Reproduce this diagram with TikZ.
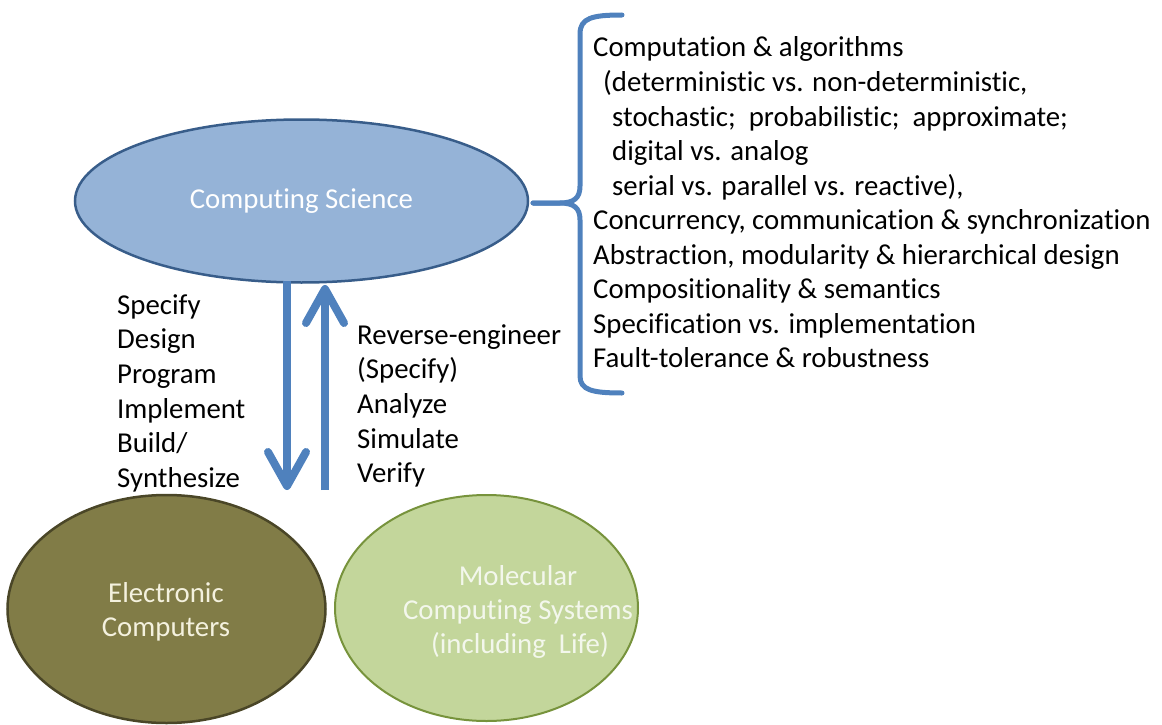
\documentclass[tikz,border=0pt]{standalone}
\usepackage{fontspec}
\setmainfont{Carlito}[Ligatures=NoCommon]
\usetikzlibrary{arrows.meta,shapes.geometric}
\definecolor{arrowblue}{HTML}{4F81BD}
\definecolor{csfill}{HTML}{95B3D7}
\definecolor{csdraw}{HTML}{385D8A}
\definecolor{olfill}{HTML}{817C47}
\definecolor{oldraw}{HTML}{4A4627}
\definecolor{oltext}{HTML}{F4F1DE}
\definecolor{grfill}{HTML}{C3D69B}
\definecolor{grdraw}{HTML}{77933C}
\definecolor{grtext}{HTML}{F3F7EC}
\begin{document}
\begin{tikzpicture}[x=1pt,y=-1pt,
  big/.style={font=\fontsize{28.8}{34.6}\selectfont},
  lst/.style={big, inner sep=0pt, anchor=base west, text=black},
  ctr/.style={big, inner sep=0pt, anchor=base},
  oval/.style={ellipse, inner sep=0pt, line width=2.5pt},
  flow/.style={draw=arrowblue, line width=8pt,
    -{Straight Barb[length=34pt, width=38pt, round]}},
  bracepath/.style={draw=arrowblue, line width=5pt, line cap=round}]
\useasboundingbox (0,0) rectangle (1162,725);

% ellipses
\node[oval, draw=csdraw, fill=csfill, minimum width=453pt, minimum height=163pt,
  text=white, big] (cs) at (301.5,201) {Computing Science};
\node[oval, draw=oldraw, fill=olfill, minimum width=318pt, minimum height=228pt] (ec) at (166.5,609) {};
\node[oval, draw=grdraw, fill=grfill, minimum width=303pt, minimum height=226pt, line width=2pt] (mc) at (486.5,608) {};

\node[ctr, text=oltext] (ec1) at (166,602) {Electronic};
\node[ctr, text=oltext] (ec2) at (166,636) {Computers};
\node[ctr, text=grtext] (mc1) at (518,585) {Molecular};
\node[ctr, text=grtext] (mc2) at (518,619) {Computing Systems};
\node[ctr, text=grtext] (mc3) at (520,653) {(including\ \ Life)};

% arrows
\coordinate (dtop) at (287,281);
\coordinate (dbot) at (287,490);
\coordinate (ubot) at (325,490);
\coordinate (utop) at (325,285);
\draw[flow] (dtop) -- (dbot);
\draw[flow] (ubot) -- (utop);

% left labels
\node[lst] (s1) at (117,314) {Specify};
\node[lst] (s2) at (117,348.7) {Design};
\node[lst] (s3) at (117,383.4) {Program};
\node[lst] (s4) at (117,418) {Implement};
\node[lst] (s5) at (117,452.8) {Build/};
\node[lst] (s6) at (117,487.5) {Synthesize};

% right labels
\node[lst] (r1) at (357,344) {Reverse-engineer};
\node[lst] (r2) at (357,378.7) {(Specify)};
\node[lst] (r3) at (357,413.4) {Analyze};
\node[lst] (r4) at (357,448) {Simulate};
\node[lst] (r5) at (357,482.8) {Verify};

% brace
\coordinate (bt) at (533,203);
\draw[bracepath] (622,15) .. controls (592,15) and (580,18) .. (580,34) -- (580,186)
  .. controls (580,198) and (574,203) .. (560,203) -- (bt);
\draw[bracepath] (bt) -- (560,203) .. controls (574,203) and (580,208) .. (580,220)
  -- (580,376) .. controls (580,390) and (592,393) .. (622,393);

% list
\node[lst] (l1) at (593,57) {Computation \& algorithms};
\node[lst] (l2) at (603,91.5) {(deterministic vs. non-deterministic,};
\node[lst] (l3) at (612,126) {stochastic;\ \ probabilistic;\ \ approximate;};
\node[lst] (l4) at (612,160.5) {digital vs. analog};
\node[lst] (l5) at (612,195) {serial vs. parallel vs. reactive),};
\node[lst] (l6) at (593,229.5) {Concurrency, communication \& synchronization};
\node[lst] (l7) at (593,264) {Abstraction, modularity \& hierarchical design};
\node[lst] (l8) at (593,298.5) {Compositionality \& semantics};
\node[lst] (l9) at (593,333) {Specification vs. implementation};
\node[lst] (l10) at (593,367.5) {Fault-tolerance \& robustness};
\end{tikzpicture}
\end{document}
